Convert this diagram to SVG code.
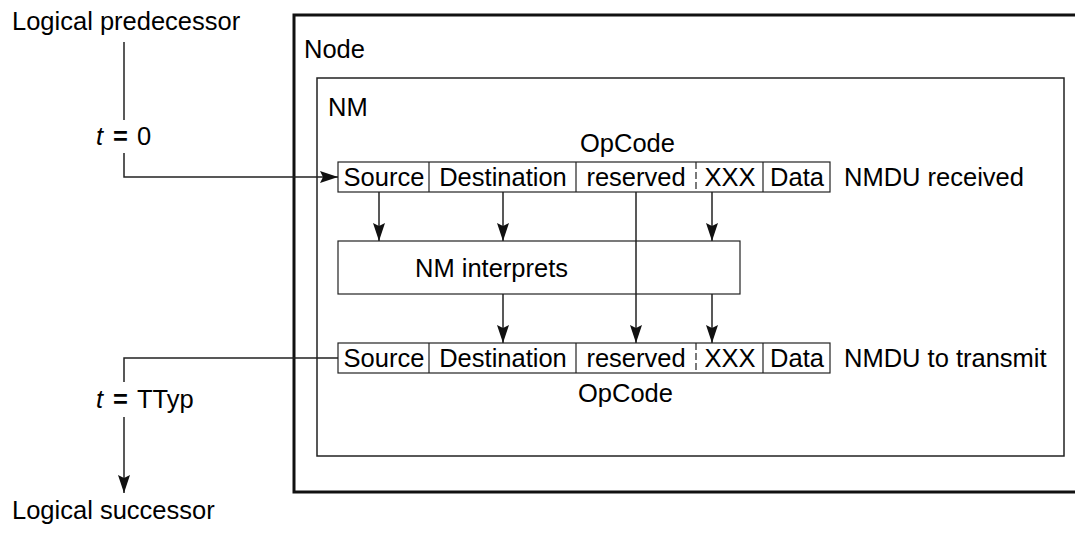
<svg xmlns="http://www.w3.org/2000/svg" width="1075" height="534" viewBox="0 0 1075 534">
  <style>
    text { font-family: "Liberation Sans", Arial, sans-serif; font-size: 25.5px; fill: #000; }
    .mid { text-anchor: middle; }
    .field { fill: none; stroke: #222; stroke-width: 1.2; }
    .wire { fill: none; stroke: #222; stroke-width: 1.5; }
    .eq { font-weight: bold; }
  </style>
  <defs>
    <marker id="arrow" markerUnits="userSpaceOnUse" markerWidth="20" markerHeight="12" refX="18" refY="6" orient="auto">
      <path d="M0,0 L18,6 L0,12 L3,6 Z" fill="#111"/>
    </marker>
  </defs>

  <!-- outer node frame, open on the right -->
  <g id="node">
    <path d="M1080,15 H294 V492 H1080" fill="none" stroke="#111" stroke-width="3"/>
    <text x="304" y="58">Node</text>
  </g>

  <!-- network manager -->
  <g id="nm">
    <rect x="317" y="78" width="747" height="378" fill="none" stroke="#222" stroke-width="1.5"/>
    <text x="328" y="116">NM</text>
  </g>

  <!-- received NMDU -->
  <g id="nmdu-received">
    <rect class="field" x="338" y="162" width="492" height="30"/>
    <line class="field" x1="429" y1="162" x2="429" y2="192"/>
    <line class="field" x1="576" y1="162" x2="576" y2="192"/>
    <line class="field" x1="696" y1="162" x2="696" y2="192" stroke-dasharray="7,3"/>
    <line class="field" x1="763" y1="162" x2="763" y2="192"/>
    <text class="mid" x="384" y="186">Source</text>
    <text class="mid" x="503" y="186">Destination</text>
    <text class="mid" x="636" y="186">reserved</text>
    <text class="mid" x="730" y="186">XXX</text>
    <text class="mid" x="797" y="186">Data</text>
    <text x="580" y="152">OpCode</text>
    <text x="844" y="186">NMDU received</text>
  </g>

  <!-- interpretation step -->
  <g id="nm-interprets">
    <rect class="field" x="338" y="241" width="402" height="53"/>
    <text x="415" y="277">NM interprets</text>
  </g>

  <!-- NMDU to transmit -->
  <g id="nmdu-transmit">
    <rect class="field" x="338" y="343" width="492" height="30"/>
    <line class="field" x1="429" y1="343" x2="429" y2="373"/>
    <line class="field" x1="576" y1="343" x2="576" y2="373"/>
    <line class="field" x1="696" y1="343" x2="696" y2="373" stroke-dasharray="7,3"/>
    <line class="field" x1="763" y1="343" x2="763" y2="373"/>
    <text class="mid" x="384" y="367">Source</text>
    <text class="mid" x="503" y="367">Destination</text>
    <text class="mid" x="636" y="367">reserved</text>
    <text class="mid" x="730" y="367">XXX</text>
    <text class="mid" x="797" y="367">Data</text>
    <text x="578" y="402">OpCode</text>
    <text x="844" y="367">NMDU to transmit</text>
  </g>

  <!-- ring neighbours -->
  <g id="predecessor">
    <text x="12" y="30">Logical predecessor</text>
  </g>
  <g id="successor">
    <text x="12" y="519">Logical successor</text>
  </g>
  <g id="time-labels">
    <text x="96" y="145"><tspan font-style="italic">t</tspan><tspan class="eq" dx="10">=</tspan><tspan dx="9">0</tspan></text>
    <text x="96" y="408"><tspan font-style="italic">t</tspan><tspan class="eq" dx="10">=</tspan><tspan dx="9">TTyp</tspan></text>
  </g>

  <g id="connectors">
    <line class="wire" x1="124" y1="42" x2="124" y2="120"/>
    <path class="wire" d="M124,153 V177 H338" marker-end="url(#arrow)"/>
    <line class="wire" x1="379" y1="192" x2="379" y2="241" marker-end="url(#arrow)"/>
    <line class="wire" x1="503" y1="192" x2="503" y2="241" marker-end="url(#arrow)"/>
    <line class="wire" x1="712" y1="192" x2="712" y2="241" marker-end="url(#arrow)"/>
    <line class="wire" x1="636" y1="192" x2="636" y2="343" marker-end="url(#arrow)"/>
    <line class="wire" x1="503" y1="294" x2="503" y2="343" marker-end="url(#arrow)"/>
    <line class="wire" x1="712" y1="294" x2="712" y2="343" marker-end="url(#arrow)"/>
    <path class="wire" d="M338,358 H124 V382"/>
    <line class="wire" x1="124" y1="417" x2="124" y2="493" marker-end="url(#arrow)"/>
  </g>
</svg>
